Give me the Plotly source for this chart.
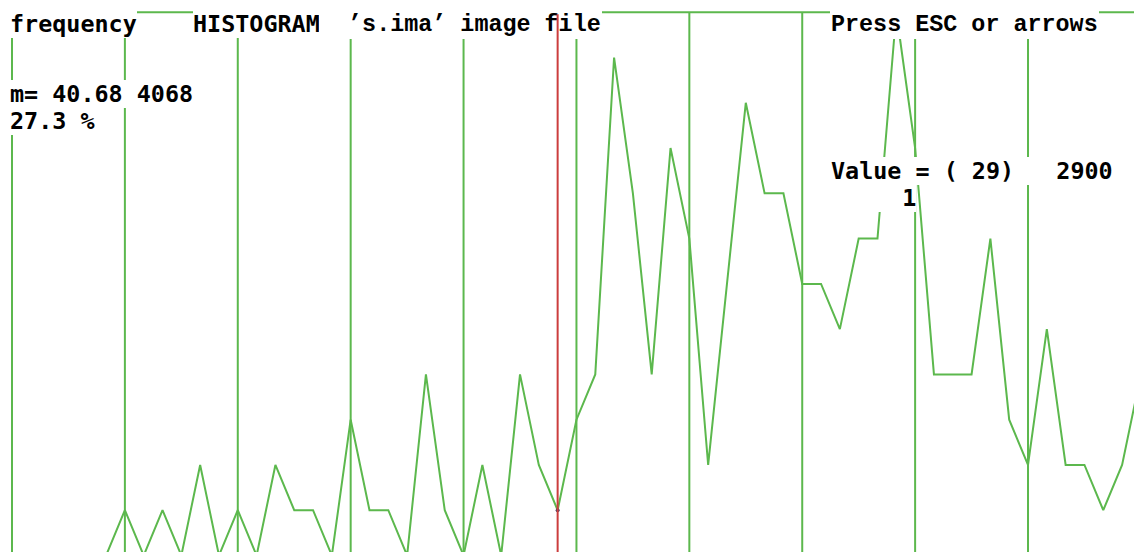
import plotly.graph_objects as go

# ---- data -------------------------------------------------------------
bins = list(range(61))
freq = [0, 0, 0, 0, 0, 0,
        1, 0, 1, 0, 2, 0,
        1, 0, 2, 1, 1, 0,
        3, 1, 1, 0, 4, 1,
        0, 2, 0, 4, 2, 1,
        3, 4, 11, 8, 4, 9,
        7, 2, 6, 10, 8, 8,
        6, 6, 5, 7, 7, 12,
        9, 4, 4, 4, 7, 3,
        2, 5, 2, 2, 1, 2,
        4]
grid_bins = [0, 6, 12, 18, 24, 30, 36, 42, 48, 54]
frame_top = 12
cursor_bin = 29

title_left = "frequency"
title_mid = "HISTOGRAM"
title_file = "  \u2019s.ima\u2019 image file"
hint_text = "Press ESC or arrows"
mean_text = "m= 40.68 4068"
pct_text = "27.3 %"
value_text = "Value = ( 29)   2900"
count_text = "  1"

# ---- styling ----------------------------------------------------------
W, H = 1134, 552
GREEN = "#5cb84d"
RED = "#cc3d3d"
step = 18.815          # px per bin
x_origin = 12          # px of bin 0
unit = 45.27           # px per count
base = 555.5           # px of count 0

x_range = [-x_origin / step, (W - x_origin) / step]
y_range = [(base - H) / unit, base / unit]

SANS = "DejaVu Sans Mono"
SERIF = "Liberation Mono"
FS = 23.4

def nb(s):
    return s.replace(" ", "\u00a0")

fig = go.Figure()

fig.add_trace(go.Scatter(
    x=bins, y=freq, mode="lines",
    line=dict(color=GREEN, width=2),
    hoverinfo="skip", showlegend=False,
))
fig.add_trace(go.Scatter(
    x=[cursor_bin], y=[freq[cursor_bin]], mode="markers",
    marker=dict(color="#444466", size=4),
    hoverinfo="skip", showlegend=False,
))

shapes = []
for g in grid_bins:
    shapes.append(dict(type="line", xref="x", yref="y",
                       x0=g, x1=g, y0=-1, y1=frame_top,
                       line=dict(color=GREEN, width=2), layer="below"))
shapes.append(dict(type="line", xref="x", yref="y",
                   x0=grid_bins[0], x1=bins[-1] + 1, y0=frame_top, y1=frame_top,
                   line=dict(color=GREEN, width=2), layer="below"))

def px(x):
    return x / W

def py(y):
    return 1 - y / H

def txt(s, left, top, family, pad=0):
    return dict(text=nb(s), xref="paper", yref="paper",
                x=px(left), y=py(top), xanchor="left", yanchor="top",
                showarrow=False, bgcolor="white", borderpad=pad, borderwidth=0,
                font=dict(family=family, size=FS, color="black", weight="bold"))

annotations = [
    txt(title_left, 10, 10, SANS),
    txt(title_mid, 193, 10, SANS),
    txt(title_file, 319, 11.2, SERIF, pad=1),
    txt(hint_text, 830, 11.2, SERIF, pad=1),
    txt(mean_text, 10, 80, SANS),
    txt(pct_text, 10, 107.4, SANS),
    txt(value_text, 831, 156.6, SANS),
    txt(count_text, 873.7, 184, SANS),
    # red cursor line, drawn above the text boxes
    dict(text=" ", xref="x", yref="y", axref="x", ayref="y",
         x=cursor_bin, y=y_range[0], ax=cursor_bin, ay=frame_top,
         showarrow=True, arrowhead=0, arrowwidth=2, arrowcolor=RED,
         standoff=0, startstandoff=0, font=dict(size=1)),
]

fig.update_layout(
    width=W, height=H, autosize=False,
    margin=dict(l=0, r=0, t=0, b=0, pad=0),
    paper_bgcolor="white", plot_bgcolor="white",
    xaxis=dict(range=x_range, visible=False, fixedrange=True),
    yaxis=dict(range=y_range, visible=False, fixedrange=True),
    shapes=shapes, annotations=annotations,
    showlegend=False,
)

fig.write_html(
    "out.html",
    config={"displayModeBar": False},
    post_script="document.body.style.margin='0';document.body.style.overflow='hidden';",
)
